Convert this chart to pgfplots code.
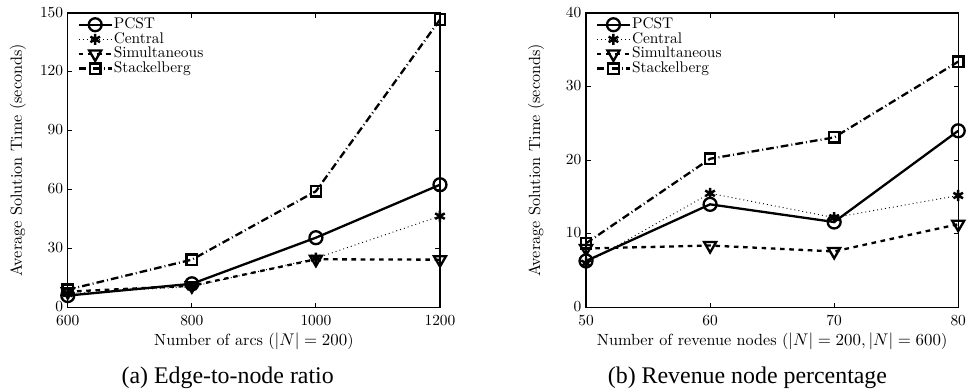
\documentclass[border=0pt]{standalone}
\usepackage{fontspec}
\usepackage{pgfplots}
\pgfplotsset{compat=1.18}
\newfontfamily\capfont{Liberation Serif}
\pgfplotsset{
  myaxis/.style={
    scale only axis, width=241.6pt, height=191pt,
    axis line style={line width=0.9pt},
    tick style={line width=0.6pt, black}, major tick length=3pt,
    xtick pos=both, ytick pos=both, tick align=inside,
    /pgf/number format/1000 sep={},
    ticklabel style={font=\fontsize{10}{12}\selectfont},
    label style={font=\fontsize{10.5}{12}\selectfont},
    ylabel={Average Solution Time (seconds)},
    ylabel style={at={(axis description cs:0,0.5)}, anchor=center, yshift=32.5pt},
    xlabel style={yshift=2pt},
    xticklabel style={yshift=-1.8pt},
    yticklabel style={xshift=0.5pt, yshift=0.6pt},
    legend cell align=left,
    legend style={draw=none, fill=none, at={(0.025,0.985)}, anchor=north west,
      row sep=0.5pt, inner sep=0pt, font=\fontsize{10}{10}\selectfont,
      nodes={inner sep=0.5pt, text height=6.4pt, text depth=1.6pt}},
    legend image code/.code={
      \draw[mark repeat=2,mark phase=2] plot coordinates {(0cm,0cm) (0.38cm,0cm) (0.76cm,0cm)};},
  },
  pcst/.style={black, line width=1.5pt, mark=o, mark size=4.2pt, mark options={solid, line width=1.5pt}},
  central/.style={black, line width=0.6pt, dotted, mark=asterisk, mark size=3.6pt, mark options={solid, line width=1.6pt}},
  simul/.style={black, line width=1.5pt, dashed, mark=triangle, mark size=4.5pt, mark options={solid, rotate=180, line width=1.5pt}},
  stack/.style={black, line width=1.5pt, dash pattern=on 5pt off 2pt on 0.6pt off 2pt, mark=square, mark size=3.4pt, mark options={solid, line width=1.5pt}},
}
\begin{document}
\begin{tikzpicture}
\path[use as bounding box] (-44pt,-54.5pt) rectangle (585pt,199.5pt);
\begin{axis}[myaxis, name=a, at={(0pt,0pt)}, anchor=south west,
  xmin=600, xmax=1200, ymin=0, ymax=150,
  xtick={600,800,1000,1200}, ytick={0,30,60,90,120,150},
  xlabel={Number of arcs ($|N|=200$)}]
\addplot[pcst] coordinates {(600,6) (800,12) (1000,35.5) (1200,62.5)};
\addlegendentry{PCST}
\addplot[central] coordinates {(600,7) (800,10.5) (1000,25) (1200,46.5)};
\addlegendentry{Central}
\addplot[simul] coordinates {(600,8) (800,11) (1000,24.5) (1200,24.3)};
\addlegendentry{Simultaneous}
\addplot[stack] coordinates {(600,9) (800,24.3) (1000,59.2) (1200,146.7)};
\addlegendentry{Stackelberg}
\end{axis}
\begin{axis}[myaxis, name=b, at={(336.4pt,0pt)}, anchor=south west,
  xmin=50, xmax=80, ymin=0, ymax=40,
  xtick={50,60,70,80}, ytick={0,10,20,30,40},
  xlabel={Number of revenue nodes ($|N|=200, |N|=600$)}]
\addplot[pcst] coordinates {(50,6.3) (60,14.0) (70,11.6) (80,24.0)};
\addlegendentry{PCST}
\addplot[central] coordinates {(50,6.0) (60,15.5) (70,12.2) (80,15.2)};
\addlegendentry{Central}
\addplot[simul] coordinates {(50,8.0) (60,8.4) (70,7.6) (80,11.3)};
\addlegendentry{Simultaneous}
\addplot[stack] coordinates {(50,8.7) (60,20.2) (70,23.1) (80,33.4)};
\addlegendentry{Stackelberg}
\end{axis}
\node[font=\capfont\fontsize{15.5}{17}\selectfont] at ([xshift=-17pt,yshift=-46pt]a.south) {(a) Edge-to-node ratio};
\node[font=\capfont\fontsize{15.5}{17}\selectfont] at ([xshift=-16pt,yshift=-46pt]b.south) {(b) Revenue node percentage};
\end{tikzpicture}
\end{document}
